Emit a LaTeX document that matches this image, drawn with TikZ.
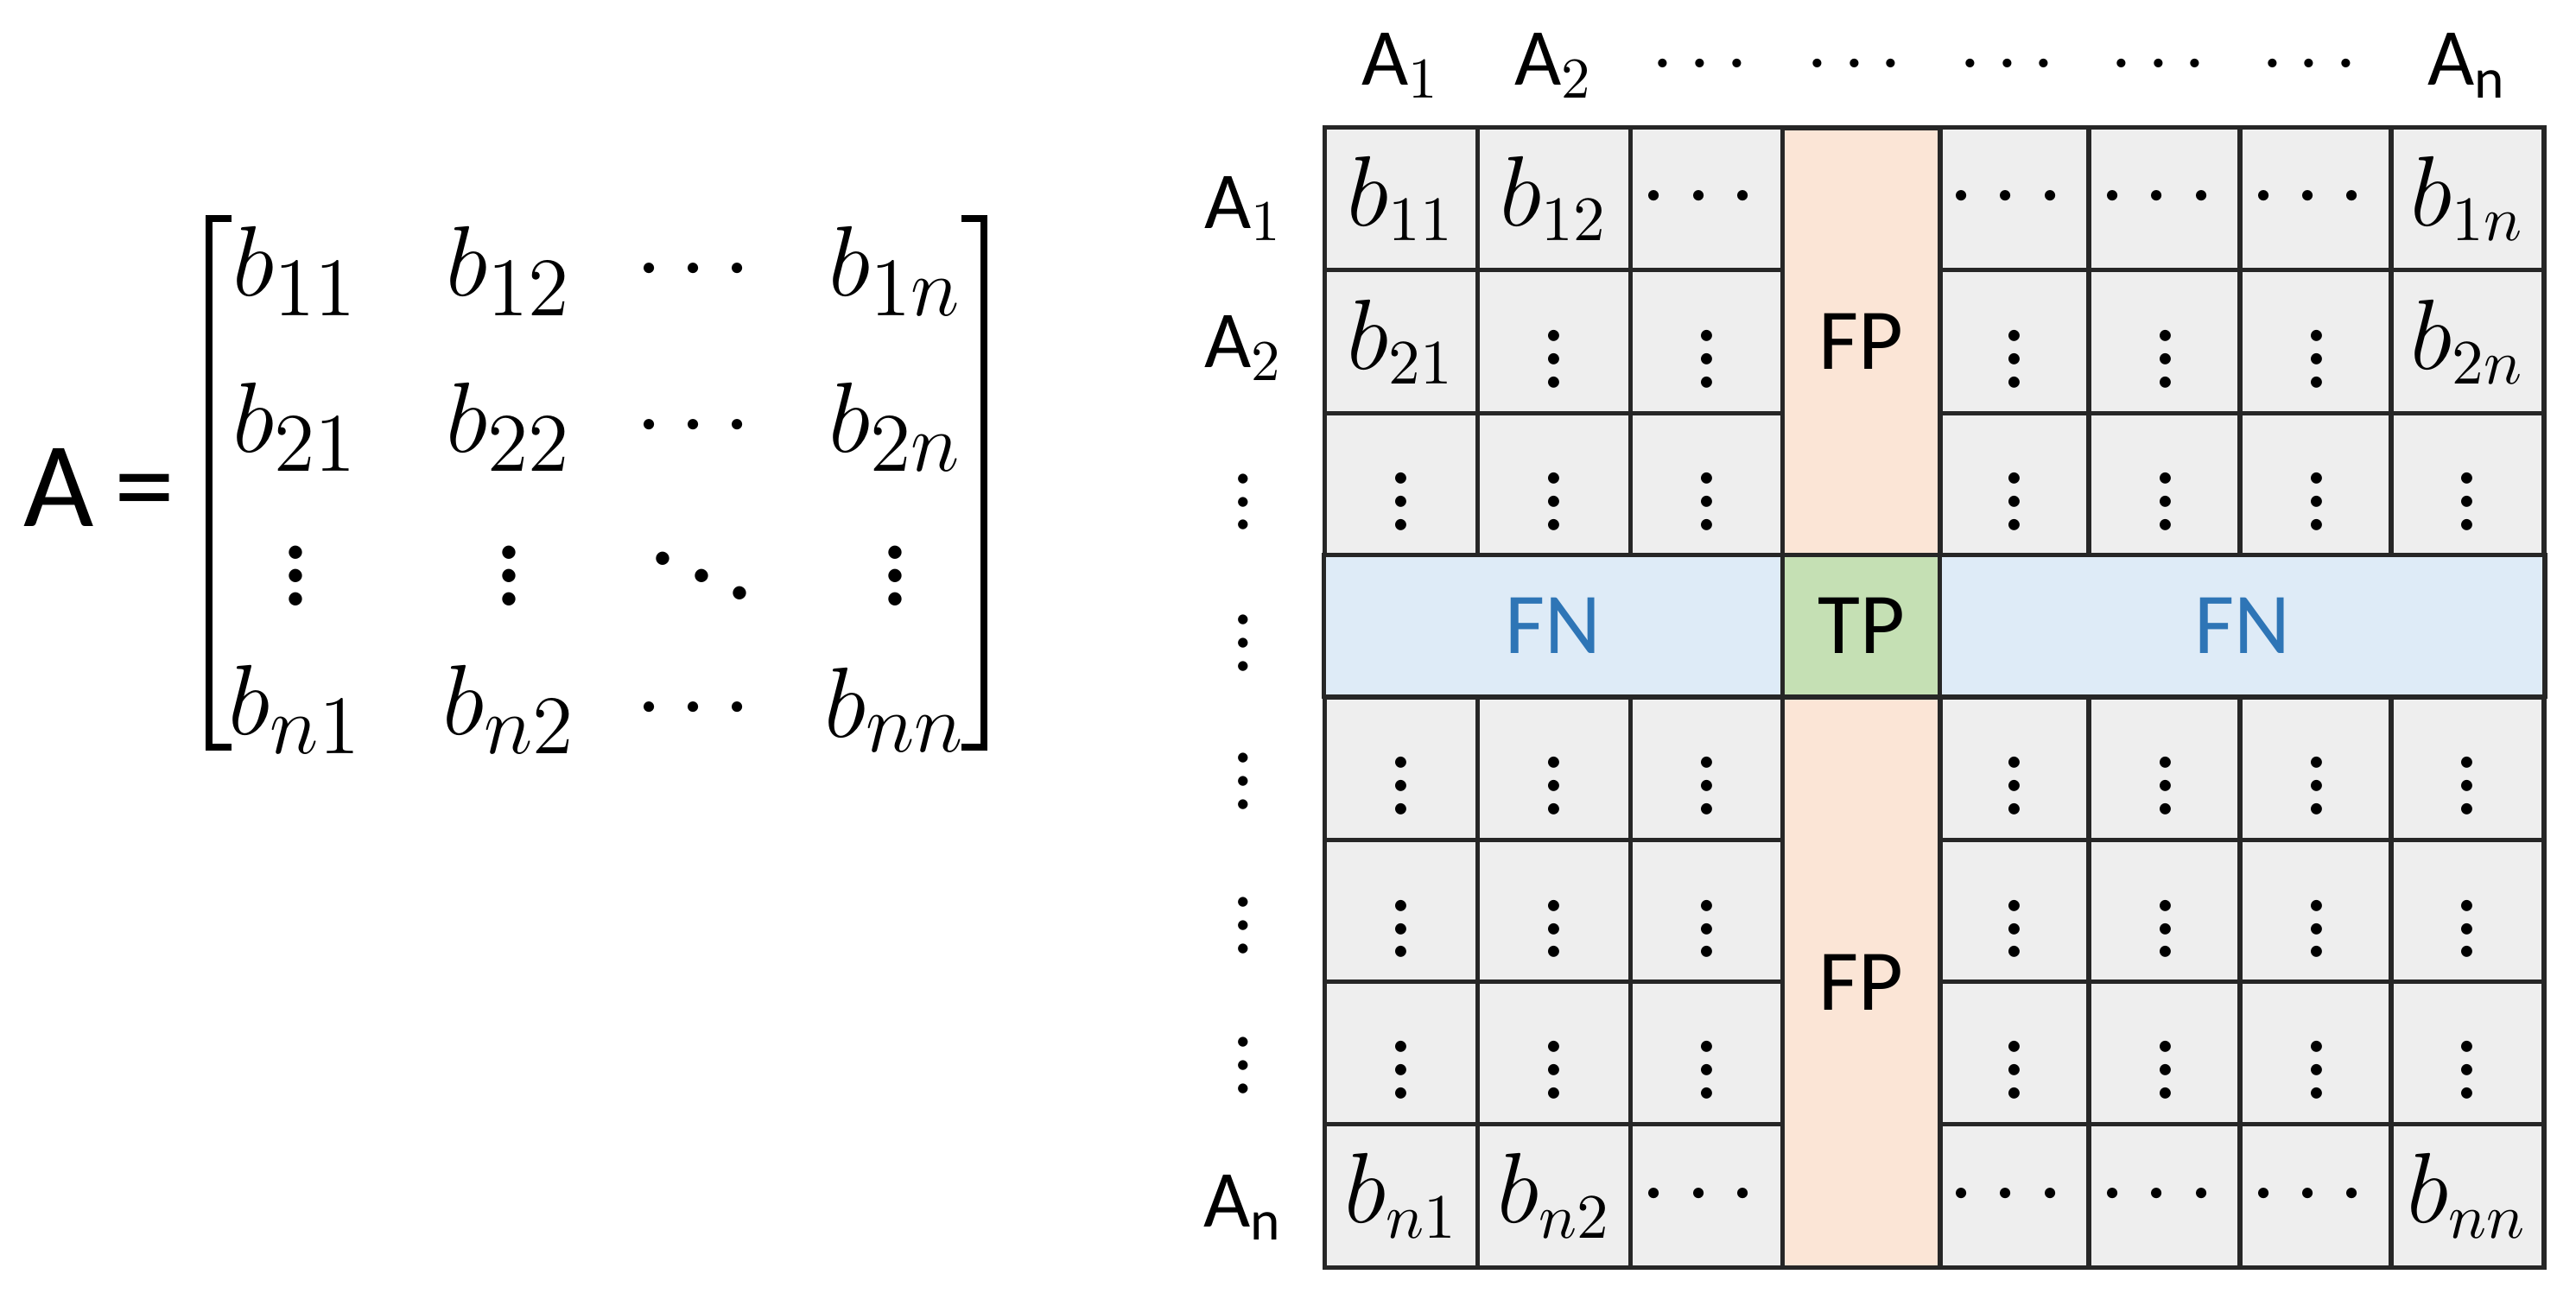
\documentclass[tikz,border=0pt]{standalone}
\usepackage{amsmath}
\usepackage{fontspec}
\setmainfont{Carlito}
\definecolor{cellgray}{HTML}{EEEEEE}
\definecolor{fpfill}{HTML}{FBE5D6}
\definecolor{fnfill}{HTML}{DEEBF7}
\definecolor{tpfill}{HTML}{C5E0B4}
\definecolor{fntext}{HTML}{2E75B6}
\tikzset{
  cell/.style={draw=black!85, thick, fill=cellgray, minimum width=0.93cm, minimum height=0.87cm, inner sep=0pt, font=\fontsize{16}{16}\selectfont},
  entry/.style={inner sep=0pt, font=\fontsize{19}{19}\selectfont},
  hdr/.style={font=\fontsize{14}{14}\selectfont, inner sep=0pt},
  band/.style={draw=black!85, thick, inner sep=0pt, font=\fontsize{15}{15}\selectfont},
  brk/.style={line width=1.2pt}
}
\begin{document}
\begin{tikzpicture}[x=0.01cm, y=-0.01cm]
\useasboundingbox (0,0) rectangle (1568,795);
% matrix on the left
\node[font=\fontsize{21}{21}\selectfont, anchor=west, inner sep=0pt] (eqA) at (14,297) {A\,=};
\foreach \i/\y/\a/\b/\c/\d in {
  1/165/b_{11}/b_{12}/\cdots/b_{1n},
  2/260/b_{21}/b_{22}/\cdots/b_{2n},
  3/340/\vdots/\vdots/\ddots/\vdots,
  4/432/b_{n1}/b_{n2}/\cdots/b_{nn}}{
  \node[entry] (m\i-1) at (180,\y) {$\a$};
  \node[entry] (m\i-2) at (310,\y) {$\b$};
  \node[entry] (m\i-3) at (427,\y) {$\c$};
  \node[entry] (m\i-4) at (545,\y) {$\d$};
}
\coordinate (lt) at (127,133); \coordinate (lb) at (127,455);
\coordinate (rt) at (599,133); \coordinate (rb) at (599,455);
\draw[brk] ([xshift=0.14cm]lt) -- (lt) -- (lb) -- ([xshift=0.14cm]lb);
\draw[brk] ([xshift=-0.14cm]rt) -- (rt) -- (rb) -- ([xshift=-0.14cm]rb);
% grid cells
\foreach \r/\y/\a/\b/\c/\d/\e/\f/\g in {
  1/121/b_{11}/b_{12}/\cdots/\cdots/\cdots/\cdots/b_{1n},
  2/208/b_{21}/\vdots/\vdots/\vdots/\vdots/\vdots/b_{2n},
  3/295/\vdots/\vdots/\vdots/\vdots/\vdots/\vdots/\vdots,
  5/468/\vdots/\vdots/\vdots/\vdots/\vdots/\vdots/\vdots,
  6/555/\vdots/\vdots/\vdots/\vdots/\vdots/\vdots/\vdots,
  7/641/\vdots/\vdots/\vdots/\vdots/\vdots/\vdots/\vdots,
  8/728/b_{n1}/b_{n2}/\cdots/\cdots/\cdots/\cdots/b_{nn}}{
  \node[cell] (c\r-1) at (853,\y) {$\a$};
  \node[cell] (c\r-2) at (946,\y) {$\b$};
  \node[cell] (c\r-3) at (1039,\y) {$\c$};
  \node[cell] (c\r-5) at (1226,\y) {$\d$};
  \node[cell] (c\r-6) at (1318,\y) {$\e$};
  \node[cell] (c\r-7) at (1410,\y) {$\f$};
  \node[cell] (c\r-8) at (1502,\y) {$\g$};
}
% FP / FN / TP bands
\node[band, fill=fpfill, minimum width=0.96cm, minimum height=2.60cm] (fp1) at (1133,208) {FP};
\node[band, fill=fpfill, minimum width=0.96cm, minimum height=3.47cm] (fp2) at (1133,598) {FP};
\node[band, fill=tpfill, minimum width=0.96cm, minimum height=0.86cm] (tp) at (1133,381) {TP};
\node[band, fill=fnfill, text=fntext, minimum width=2.79cm, minimum height=0.86cm] (fn1) at (945.5,381) {FN};
\node[band, fill=fnfill, text=fntext, minimum width=3.68cm, minimum height=0.86cm] (fn2) at (1365,381) {FN};
% column headers
\foreach \n/\x/\t in {1/853/A$_1$, 2/946/A$_2$, 3/1039/$\cdots$, 4/1133/$\cdots$, 5/1226/$\cdots$, 6/1318/$\cdots$, 7/1410/$\cdots$, 8/1502/A$_\mathrm{n}$}
  \node[hdr] (h\n) at (\x,40) {\t};
% row headers
\foreach \n/\y/\t in {1/127/A$_1$, 2/212/A$_2$, 3/295/$\vdots$, 4/381/$\vdots$, 5/465/$\vdots$, 6/553/$\vdots$, 7/638/$\vdots$, 8/735/A$_\mathrm{n}$}
  \node[hdr] (v\n) at (757,\y) {\t};
\end{tikzpicture}
\end{document}
